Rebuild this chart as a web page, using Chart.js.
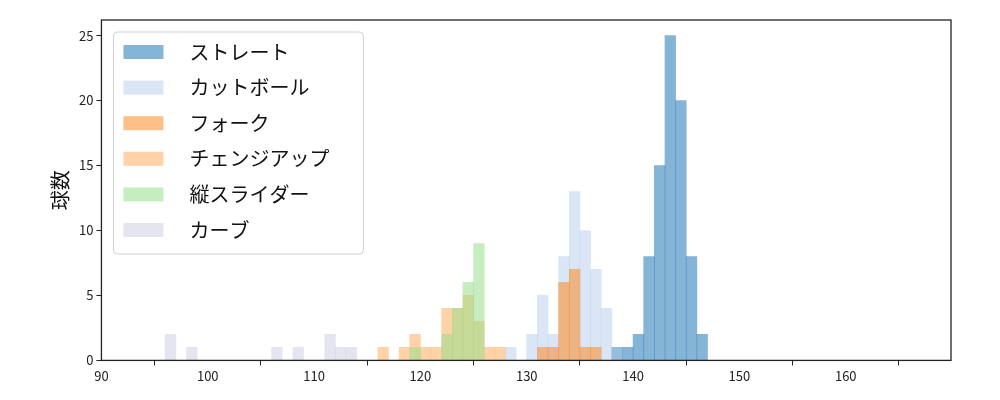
<!DOCTYPE html>
<html>
<head>
<meta charset="utf-8">
<script src="https://cdn.jsdelivr.net/npm/chart.js@4"></script>
<style>
  body { margin: 0; background: #fff; }
  #wrap { width: 1000px; height: 400px; }
</style>
</head>
<body>
<div id="wrap"><canvas id="c"></canvas></div>
<script>
// 球種ごとのヒストグラム (ビン中心, 球数)
const straightX = [138.5, 139.5, 140.5, 141.5, 142.5, 143.5, 144.5, 145.5, 146.5];
const straightY = [1, 1, 2, 8, 15, 25, 20, 8, 2];

const cutX = [128.5, 130.5, 131.5, 132.5, 133.5, 134.5, 135.5, 136.5, 137.5, 138.5];
const cutY = [1, 2, 5, 2, 8, 13, 10, 7, 4, 1];

const forkX = [131.5, 132.5, 133.5, 134.5, 135.5, 136.5];
const forkY = [1, 1, 6, 7, 1, 1];

const changeX = [116.5, 118.5, 119.5, 120.5, 121.5, 122.5, 123.5, 124.5, 125.5, 126.5, 127.5];
const changeY = [1, 1, 2, 1, 1, 4, 4, 5, 3, 1, 1];

const sliderX = [119.5, 122.5, 123.5, 124.5, 125.5];
const sliderY = [1, 2, 4, 6, 9];

const curveX = [96.5, 98.5, 106.5, 108.5, 111.5, 112.5, 113.5];
const curveY = [2, 1, 1, 1, 2, 1, 1];

const xTicks = [90, 100, 110, 120, 130, 140, 150, 160];
const yTicks = [0, 5, 10, 15, 20, 25];

const labels = ['ストレート', 'カットボール', 'フォーク', 'チェンジアップ', '縦スライダー', 'カーブ'];
const colors = ['rgba(31,119,180,0.55)', 'rgba(174,199,232,0.45)', 'rgba(255,127,14,0.5)',
                'rgba(255,187,120,0.65)', 'rgba(152,223,138,0.55)', 'rgba(197,197,222,0.45)'];
const xs = [straightX, cutX, forkX, changeX, sliderX, curveX];
const ys = [straightY, cutY, forkY, changeY, sliderY, curveY];

const FONT = "'Noto Sans CJK JP', 'DejaVu Sans', sans-serif";

// 凡例と枠線
const frameLegend = {
  id: 'frameLegend',
  afterDraw(chart) {
    const { ctx, chartArea: a } = chart;
    ctx.save();
    ctx.strokeStyle = '#222';
    ctx.lineWidth = 1.3;
    ctx.strokeRect(a.left, a.top, a.right - a.left, a.bottom - a.top);

    const bx = a.left + 12, by = a.top + 12, bw = 250, bh = 222;
    ctx.fillStyle = 'rgba(255,255,255,0.8)';
    ctx.strokeStyle = '#d0d0d0';
    ctx.lineWidth = 1;
    ctx.beginPath();
    ctx.roundRect(bx, by, bw, bh, 4);
    ctx.fill();
    ctx.stroke();
    ctx.font = '20px ' + FONT;
    ctx.textBaseline = 'middle';
    labels.forEach((l, i) => {
      const cy = by + 20 + i * 35.6;
      ctx.fillStyle = colors[i];
      ctx.fillRect(bx + 10, cy - 7, 40, 14);
      ctx.fillStyle = '#111';
      ctx.fillText(l, bx + 76, cy);
    });
    ctx.restore();
  }
};

new Chart(document.getElementById('c'), {
  type: 'bar',
  data: {
    datasets: labels.map((l, i) => ({
      label: l,
      data: xs[i].map((x, j) => ({ x: x, y: ys[i][j] })),
      backgroundColor: colors[i],
      borderWidth: 0,
      grouped: false,
      barPercentage: 1,
      categoryPercentage: 1,
      order: labels.length - i,
    })),
  },
  options: {
    responsive: true,
    maintainAspectRatio: false,
    animation: false,
    layout: { padding: { left: 44, right: 49, top: 20, bottom: 13 } },
    plugins: { legend: { display: false }, tooltip: { enabled: false } },
    scales: {
      x: {
        type: 'linear',
        min: 90, max: 169.9,
        offset: false,
        afterBuildTicks: s => { s.ticks = xTicks.map(v => ({ value: v })); },
        grid: { display: true, drawOnChartArea: false, tickLength: 5, color: '#222' },
        border: { display: false },
        ticks: { color: '#222', font: { size: 13, family: FONT }, maxRotation: 0, autoSkip: false },
      },
      y: {
        min: 0, max: 26.2,
        afterBuildTicks: s => { s.ticks = yTicks.map(v => ({ value: v })); },
        grid: { display: true, drawOnChartArea: false, tickLength: 5, color: '#222' },
        border: { display: false },
        ticks: { color: '#222', font: { size: 13, family: FONT } },
        title: { display: true, text: '球数', color: '#111', font: { size: 20, family: FONT } },
      },
    },
  },
  plugins: [frameLegend],
});
</script>
</body>
</html>
